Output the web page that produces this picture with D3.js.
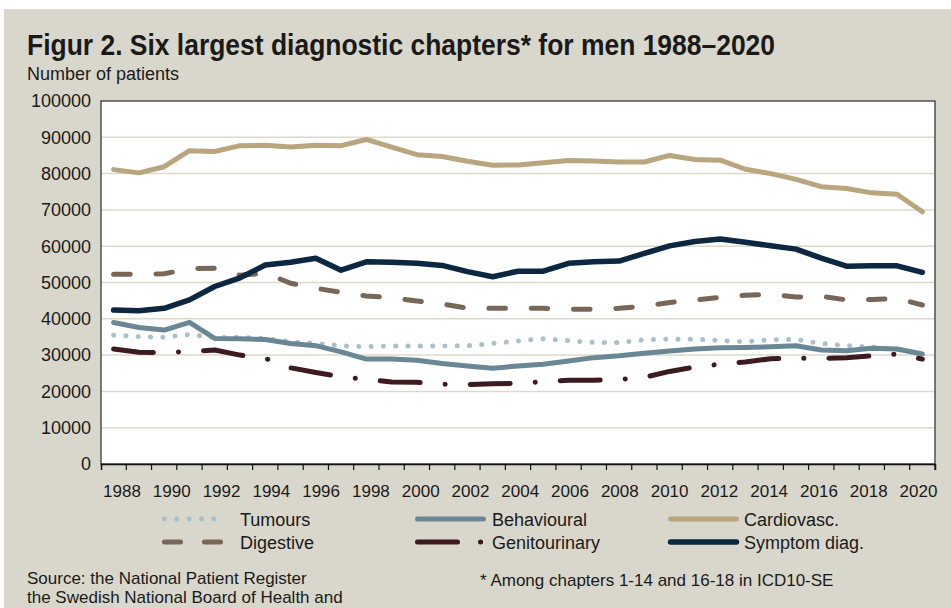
<!DOCTYPE html>
<html><head><meta charset="utf-8">
<script src="https://cdn.jsdelivr.net/npm/d3@7/dist/d3.min.js"></script>
<style>
body{margin:0;background:#fff}
text{font-family:"Liberation Sans",Arial,sans-serif;fill:#1a1a1a}
</style>
</head><body>
<svg id="chart" width="951" height="608"></svg>
<script>
const years = [1988,1989,1990,1991,1992,1993,1994,1995,1996,1997,1998,1999,2000,2001,2002,2003,2004,2005,2006,2007,2008,2009,2010,2011,2012,2013,2014,2015,2016,2017,2018,2019,2020];
const xTickLabels = [1988,1990,1992,1994,1996,1998,2000,2002,2004,2006,2008,2010,2012,2014,2016,2018,2020];
const yTicks = [0,10000,20000,30000,40000,50000,60000,70000,80000,90000,100000];

const tumours = [35500,35100,34900,35700,34800,34900,34600,33700,33200,32600,32300,32500,32500,32500,32600,33200,33900,34500,34000,33500,33500,34200,34400,34400,34000,33700,34200,34300,33200,32600,32200,31600,30200];
const behavioural = [39000,37600,36900,39000,34600,34500,34300,33200,32600,30900,28900,28900,28600,27700,27000,26400,27000,27500,28400,29300,29800,30500,31100,31700,32000,32100,32300,32600,31400,31200,31900,31700,30300];
const cardiovasc = [81100,80200,81900,86300,86100,87700,87800,87300,87800,87700,89400,87300,85200,84700,83400,82300,82400,83000,83600,83500,83200,83200,85000,83900,83700,81200,80000,78400,76400,75900,74700,74300,69500];
const digestive = [52300,52300,52400,53800,53900,52000,52600,49800,48400,47300,46300,45800,44900,44100,42900,42900,42900,42900,42600,42600,42900,43500,44500,45200,45900,46500,46700,46000,46200,45200,45300,45600,43800];
const genitourinary = [31700,30800,30700,31000,31400,30000,29100,26500,25200,24000,23300,22600,22500,22000,21900,22100,22200,22700,23050,23050,23300,23900,25500,26700,27500,28100,29000,29100,29100,29300,29800,30300,28900];
const symptom = [42400,42200,42900,45200,48900,51300,54800,55600,56700,53400,55700,55600,55300,54700,53000,51600,53100,53100,55300,55700,55900,58000,60100,61300,62000,61100,60100,59200,56700,54500,54600,54600,52800];

const seriesNames = ["Tumours","Behavioural","Cardiovasc.","Digestive","Genitourinary","Symptom diag."];
const seriesData = [tumours, behavioural, cardiovasc, digestive, genitourinary, symptom];
const styles = [
  {color:"#a9c0cc", width:5, dash:"0.1,12.2", ldash:"0.1,12.2"},
  {color:"#6a8796", width:5, dash:null, ldash:null},
  {color:"#b9a57e", width:5, dash:null, ldash:null},
  {color:"#786756", width:5, dash:"16.5,25.8", ldash:"16,24"},
  {color:"#3d1a1f", width:5, dash:"40,25,0.1,25", ldash:"40,23,0.1,25"},
  {color:"#0b2741", width:5.5, dash:null, ldash:null}
];

const svg = d3.select("#chart");
svg.append("rect").attr("x",4).attr("y",9).attr("width",947).attr("height",599).attr("fill","#d9d7cb");

const L=101, R=935, T=101, B=464;
const x = d3.scaleBand().domain(years).range([L,R]).padding(0);
const y = d3.scaleLinear().domain([0,100000]).range([B,T]);
// label positions (labels sit slightly inside the band centres in the reference)
const xl = d3.scaleLinear().domain([1988,2020]).range([122,918.5]);

svg.append("rect").attr("x",L).attr("y",T).attr("width",R-L).attr("height",B-T).attr("fill","#fff");

svg.append("g").selectAll("line").data(yTicks.filter(d=>d>0 && d<100000)).join("line")
  .attr("x1",L).attr("x2",R).attr("y1",d=>y(d)).attr("y2",d=>y(d))
  .attr("stroke","#dcd9cb").attr("stroke-width",1.5);

svg.append("rect").attr("x",L).attr("y",T).attr("width",R-L).attr("height",B-T)
  .attr("fill","none").attr("stroke","#3a3a3a").attr("stroke-width",1.3);

svg.append("g").selectAll("text").data(yTicks).join("text")
  .attr("x",91).attr("y",d=>y(d)).attr("dy","0.35em").attr("text-anchor","end")
  .style("font-size","18px").text(d=>d);

const xAxis = d3.axisBottom(x).tickValues(years).tickSize(6).tickFormat("");
const gx = svg.append("g").attr("transform",`translate(0,${B})`).call(xAxis);
gx.select(".domain").attr("stroke","#111").attr("stroke-width",1.5);
gx.selectAll(".tick").attr("transform",d=>`translate(${x(d)+x.bandwidth()},0)`);
gx.selectAll(".tick line").attr("stroke","#111").attr("stroke-width",1.2);
svg.append("g").selectAll("text").data(xTickLabels).join("text")
  .attr("x",d=>xl(d)).attr("y",497).attr("text-anchor","middle")
  .style("font-size","17px").text(d=>d);

const line = d3.line().x((d,i)=>x(years[i])+x.bandwidth()/2).y(d=>y(d));
const gl = svg.append("g");
seriesData.forEach((s,k)=>{
  const st = styles[k];
  gl.append("path").datum(s).attr("d",line).attr("fill","none")
    .attr("stroke",st.color).attr("stroke-width",st.width)
    .attr("stroke-linecap","round").attr("stroke-linejoin","round")
    .attr("stroke-dasharray",st.dash);
});

svg.append("text").attr("x",27).attr("y",55).style("font-size","30px").style("font-weight","bold")
  .attr("textLength",748).attr("lengthAdjust","spacingAndGlyphs")
  .style("font-family","'Liberation Sans Narrow','Liberation Sans',sans-serif")
  .text("Figur 2. Six largest diagnostic chapters* for men 1988–2020");
svg.append("text").attr("x",27).attr("y",80).style("font-size","18px").text("Number of patients");

const legX = [[162,228,240],[415,486,492],[668,739,744]];
const legY = [519,542];
seriesNames.forEach((n,k)=>{
  const col = k%3, row = Math.floor(k/3);
  const st = styles[k];
  const [x0,x1,tx] = legX[col];
  const yy = legY[row];
  svg.append("line").attr("x1",x0+2.5).attr("x2",x1-2.5).attr("y1",yy).attr("y2",yy)
    .attr("stroke",st.color).attr("stroke-width",st.width)
    .attr("stroke-linecap","round").attr("stroke-dasharray",st.ldash);
  svg.append("text").attr("x",tx).attr("y",yy+6.5).style("font-size","18px").text(n);
});

svg.append("text").attr("x",27).attr("y",584).style("font-size","17px").text("Source: the National Patient Register");
svg.append("text").attr("x",27).attr("y",603).style("font-size","17px").text("the Swedish National Board of Health and");
svg.append("text").attr("x",480).attr("y",586).style("font-size","17px").text("* Among chapters 1-14 and 16-18 in ICD10-SE");
</script>
</body></html>
